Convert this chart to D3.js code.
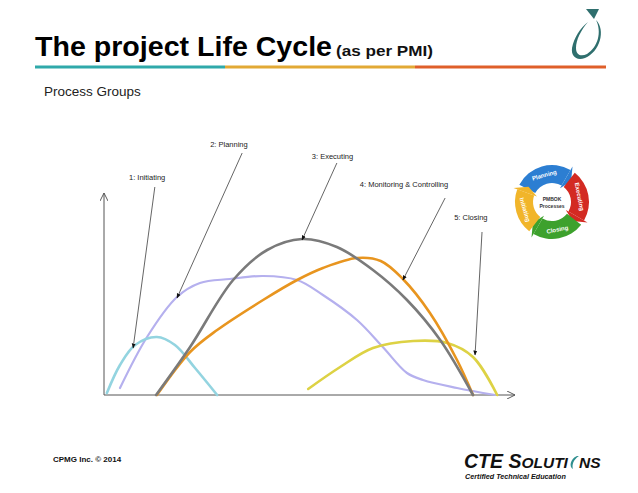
<!DOCTYPE html>
<html>
<head>
<meta charset="utf-8">
<script src="https://cdn.jsdelivr.net/npm/d3@7"></script>
<style>
  body { margin: 0; background: #fff; }
  svg { display: block; font-family: "Liberation Sans", Arial, sans-serif; }
</style>
</head>
<body>
<div id="bigdiv"></div>
<script>
// process group curves, x = time (0-100), y = level of effort (0-100)
const initiating = [[0.7, 1], [3.9, 15], [7.6, 25], [12.9, 29], [17.3, 25], [22.2, 13.5], [27.6, 0]]
const planning = [[3.9, 3.5], [10.5, 29], [17.8, 49], [23.4, 56], [30.7, 58], [38.8, 59.5], [47.1, 57.5],
    [53.4, 50], [61.7, 37.5], [68, 24], [73.9, 11], [77.8, 7.5], [86.1, 3.5], [95.4, 0]]
const executing = [[12.7, 0], [21, 24], [31.5, 57.5], [39.8, 72.5], [48.3, 78], [56.8, 74], [65.6, 62.5],
    [73.9, 47.5], [82, 27.5], [90, 0]]
const monitoring = [[12.9, 0], [21, 21.5], [27.6, 32.5], [38.8, 47.5], [47.1, 57.5], [53.4, 63.5],
    [61.7, 68.5], [67.5, 67], [72.9, 58], [79.5, 41], [86.1, 17.5], [90, 0]]
const closing = [[49.8, 3], [57.6, 14], [65.6, 23.5], [75.4, 27], [83.7, 26], [90, 19], [95.9, 0]]

const seriesNames = ['1: Initiating', '2: Planning', '3: Executing', '4: Monitoring & Controlling', '5: Closing']
const seriesColors = ['#93d4e0', '#b5b0ee', '#7a7a7a', '#e8951f', '#ddd244']

// label position [x, y] and callout line [fromX, fromY, toX, toY], same units as the curves
const labelPos = [[6.1, 107.5], [25.9, 124], [50.7, 118], [62.4, 104], [85.4, 87.5]]
const callouts = [[12.4, 104, 7.1, 23.5], [33.7, 121, 17.8, 48.5], [56.8, 116, 48.3, 77.5],
    [83.2, 98.5, 72.9, 57.5], [92.2, 81.5, 90.5, 20]]

const W = 638, H = 493

let svg = d3.select('div#bigdiv').append('svg').attr('width', W).attr('height', H)

// ---- header ----
svg.append('text').attr('x', 35).attr('y', 56)
    .attr('font-size', 27).attr('font-weight', 'bold').attr('fill', '#000')
    .attr('textLength', 297).attr('lengthAdjust', 'spacingAndGlyphs')
    .text('The project Life Cycle')
svg.append('text').attr('x', 336).attr('y', 56)
    .attr('font-size', 15).attr('font-weight', 'bold').attr('fill', '#111')
    .attr('textLength', 97).attr('lengthAdjust', 'spacingAndGlyphs')
    .text('(as per PMI)')

const barParts = [[35, 225, '#2fa9aa'], [225, 415, '#e2a935'], [415, 606, '#df5f2a']]
barParts.forEach(b => {
    svg.append('rect').attr('x', b[0]).attr('y', 65.5).attr('width', b[1] - b[0]).attr('height', 3).attr('fill', b[2])
})

svg.append('text').attr('x', 44).attr('y', 96).attr('font-size', 13.5).attr('fill', '#222')
    .text('Process Groups')

// top right logo: teal swoosh with triangle
let logo = svg.append('g')
logo.append('path')
    .attr('d', 'M596,20 C606,30 600,52 585,58 C576,61 571,56 572,48 C574,38 580,28 588,22 C581,30 576,40 576,48 C576,55 581,57 587,54 C598,47 602,32 596,20 Z')
    .attr('fill', '#2f6f6e')
logo.append('path').attr('d', 'M586,9 L599,9 L594,19 Z').attr('fill', '#2f6f6e')

// ---- chart ----
const x = d3.scaleLinear().domain([0, 100]).range([104, 514])
const y = d3.scaleLinear().domain([0, 100]).range([395, 195])

let defs = svg.append('defs')
defs.append('marker').attr('id', 'tip').attr('viewBox', '0 0 10 10')
    .attr('refX', 9).attr('refY', 5).attr('markerWidth', 5).attr('markerHeight', 5)
    .attr('orient', 'auto').attr('markerUnits', 'userSpaceOnUse')
    .append('path').attr('d', 'M0,1 L10,5 L0,9 Z').attr('fill', '#111')
defs.append('marker').attr('id', 'axtip').attr('viewBox', '0 0 10 10')
    .attr('refX', 10).attr('refY', 5).attr('markerWidth', 8).attr('markerHeight', 8)
    .attr('orient', 'auto').attr('markerUnits', 'userSpaceOnUse')
    .append('path').attr('d', 'M0,0 L10,5 L0,10').attr('fill', 'none').attr('stroke', '#555').attr('stroke-width', 1.2)

let chartg = svg.append('g').attr('id', 'chartg')

// axes with open arrows
chartg.append('line').attr('x1', x(0)).attr('y1', y(0)).attr('x2', x(100) + 1).attr('y2', y(0))
    .attr('stroke', '#555').attr('stroke-width', 1).attr('marker-end', 'url(#axtip)')
chartg.append('line').attr('x1', x(0)).attr('y1', y(0)).attr('x2', x(0)).attr('y2', y(101))
    .attr('stroke', '#555').attr('stroke-width', 1).attr('marker-end', 'url(#axtip)')

const allSeries = [initiating, planning, executing, monitoring, closing]
const line = d3.line().x(d => x(d[0])).y(d => y(d[1])).curve(d3.curveCatmullRom.alpha(0.5))

// draw order: planning first (behind), then others
const order = [1, 0, 4, 3, 2]
order.forEach(i => {
    chartg.append('path').datum(allSeries[i])
        .attr('d', line)
        .attr('fill', 'none')
        .attr('stroke', seriesColors[i])
        .attr('stroke-width', i === 1 ? 2.2 : 2.6)
        .attr('stroke-linecap', 'round')
})

// callouts
callouts.forEach((c, i) => {
    chartg.append('line')
        .attr('x1', x(c[0])).attr('y1', y(c[1]))
        .attr('x2', x(c[2])).attr('y2', y(c[3]))
        .attr('stroke', '#222').attr('stroke-width', 0.7)
        .attr('marker-end', 'url(#tip)')
    chartg.append('text')
        .attr('x', x(labelPos[i][0])).attr('y', y(labelPos[i][1]))
        .attr('font-size', 7.5).attr('fill', '#222')
        .text(seriesNames[i])
})

// ---- PMBOK processes wheel ----
const cx = 552, cy = 202, rIn = 19, rOut = 37
let wheel = svg.append('g').attr('transform', 'translate(' + cx + ',' + cy + ')')
const wheelParts = [
    { name: 'Planning', color: '#2c7ed2', a0: -62, a1: 38 },
    { name: 'Executing', color: '#d32a22', a0: 38, a1: 128 },
    { name: 'Closing', color: '#3da12d', a0: 128, a1: 218 },
    { name: 'Initiating', color: '#f1b52a', a0: 218, a1: 298 }
]
const arcGen = d3.arc().innerRadius(rIn).outerRadius(rOut)
let pt = (r, ang) => [r * Math.sin(ang), -r * Math.cos(ang)]
wheelParts.forEach(p => {
    wheel.append('path')
        .attr('d', arcGen({ startAngle: p.a0 * Math.PI / 180, endAngle: (p.a1 - 8) * Math.PI / 180 }))
        .attr('fill', p.color)
    // arrow head at the end of each part
    let a = (p.a1 - 8) * Math.PI / 180, a2 = (p.a1 + 5) * Math.PI / 180
    let p1 = pt(rIn - 3, a), p2 = pt(rOut + 4, a), p3 = pt((rIn + rOut) / 2, a2)
    wheel.append('path').attr('d', 'M' + p1 + 'L' + p2 + 'L' + p3 + 'Z').attr('fill', p.color)
    let mid = (p.a0 + p.a1 - 8) / 2
    let tp = pt((rIn + rOut) / 2, mid * Math.PI / 180)
    wheel.append('text')
        .attr('transform', 'translate(' + tp + ') rotate(' + (mid > 90 && mid < 270 ? mid - 180 : mid) + ')')
        .attr('text-anchor', 'middle').attr('dy', '0.35em')
        .attr('font-size', 6).attr('font-weight', 'bold').attr('fill', '#fff')
        .text(p.name)
})
wheel.append('text').attr('text-anchor', 'middle').attr('y', -1)
    .attr('font-size', 5).attr('font-weight', 'bold').attr('fill', '#333').text('PMBOK')
wheel.append('text').attr('text-anchor', 'middle').attr('y', 5.5)
    .attr('font-size', 5).attr('font-weight', 'bold').attr('fill', '#333').text('Processes')

// ---- footer ----
svg.append('text').attr('x', 53).attr('y', 462)
    .attr('font-size', 8).attr('font-weight', 'bold').attr('fill', '#111')
    .text('CPMG Inc. © 2014')

let cte = svg.append('g').attr('font-style', 'italic').attr('font-weight', 'bold').attr('fill', '#111')
let cteText = cte.append('text').attr('x', 464).attr('y', 468).attr('font-size', 19.5)
cteText.append('tspan').text('CTE S')
cteText.append('tspan').attr('font-size', 15.5).text('OLUTI')
let cteEnd = 464 + cteText.node().getComputedTextLength()
cte.append('path')
    .attr('d', 'M' + (cteEnd + 9) + ',456 C' + (cteEnd + 2) + ',459 ' + (cteEnd + 1) + ',467 ' + (cteEnd + 5) + ',469 C'
        + (cteEnd + 4) + ',465 ' + (cteEnd + 5) + ',460 ' + (cteEnd + 11) + ',456')
    .attr('fill', '#2f8f8f')
cte.append('text').attr('x', cteEnd + 11).attr('y', 468).attr('font-size', 15.5).text('NS')
cte.append('text').attr('x', 465).attr('y', 478.5).attr('font-size', 7.2)
    .text('Certified Technical Education')
</script>
</body>
</html>
